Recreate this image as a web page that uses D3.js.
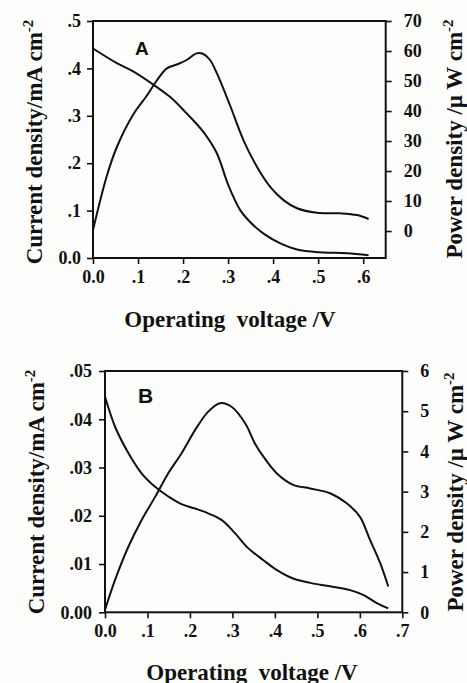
<!DOCTYPE html>
<html>
<head>
<meta charset="utf-8">
<script src="https://cdn.jsdelivr.net/npm/d3@7"></script>
<style>
  html, body { margin: 0; padding: 0; background: #fdfdfb; }
  svg { display: block; }
  .tick text { font-family: "Liberation Serif", "Times New Roman", serif; font-weight: bold; font-size: 18px; fill: #111; }
  .axis-title { font-family: "Liberation Serif", "Times New Roman", serif; font-weight: bold; font-size: 23px; fill: #111; white-space: pre; }
  .panel-tag { font-family: "Liberation Sans", Arial, sans-serif; font-weight: bold; font-size: 20px; fill: #111; }
</style>
</head>
<body>
<div id="chart"></div>
<script>
// ── Data: panel A ──────────────────────────────────────────────────────────
const aCurrentV = [0, 0.053, 0.09, 0.141, 0.171, 0.208, 0.245, 0.275, 0.30, 0.327, 0.35, 0.378, 0.416, 0.453, 0.504, 0.564, 0.612];
const aCurrent  = [0.442, 0.411, 0.393, 0.361, 0.34, 0.305, 0.266, 0.221, 0.155, 0.101, 0.075, 0.052, 0.031, 0.018, 0.012, 0.010, 0.006];
const aPowerV   = [0, 0.03, 0.053, 0.09, 0.119, 0.141, 0.164, 0.186, 0.208, 0.23, 0.245, 0.26, 0.275, 0.304, 0.334, 0.364, 0.393, 0.423, 0.453, 0.497, 0.549, 0.586, 0.612];
const aPower    = [0.3, 18, 28, 39, 45, 50, 54.2, 55.5, 57, 59.2, 59, 57, 52.6, 42, 30.3, 21.4, 14.8, 10.3, 7.6, 6.1, 5.9, 5.3, 4.0];

// ── Data: panel B ──────────────────────────────────────────────────────────
const bCurrentV = [0, 0.0235, 0.055, 0.086, 0.118, 0.149, 0.18, 0.212, 0.243, 0.275, 0.306, 0.337, 0.373, 0.404, 0.443, 0.483, 0.53, 0.577, 0.608, 0.64, 0.667];
const bCurrent  = [0.0447, 0.0385, 0.033, 0.0288, 0.026, 0.024, 0.0224, 0.0215, 0.0205, 0.0191, 0.0164, 0.0133, 0.0108, 0.0088, 0.007, 0.0061, 0.0054, 0.0046, 0.0036, 0.0019, 0.0008];
const bPowerV   = [0, 0.0235, 0.055, 0.086, 0.118, 0.149, 0.18, 0.212, 0.243, 0.271, 0.298, 0.33, 0.353, 0.373, 0.404, 0.443, 0.483, 0.53, 0.569, 0.6, 0.624, 0.648, 0.667];
const bPower    = [0.06, 0.8, 1.63, 2.29, 2.87, 3.46, 3.95, 4.53, 4.99, 5.2, 5.11, 4.7, 4.2, 3.87, 3.46, 3.17, 3.08, 2.96, 2.71, 2.38, 1.8, 1.22, 0.64];

// ── Tick labels ────────────────────────────────────────────────────────────
const aXTicks = ["0.0", ".1", ".2", ".3", ".4", ".5", ".6"];
const aLTicks = ["0.0", ".1", ".2", ".3", ".4", ".5"];
const aRTicks = ["0", "10", "20", "30", "40", "50", "60", "70"];
const bXTicks = ["0.0", ".1", ".2", ".3", ".4", ".5", ".6", ".7"];
const bLTicks = ["0.00", ".01", ".02", ".03", ".04", ".05"];
const bRTicks = ["0", "1", "2", "3", "4", "5", "6"];

const xTitle = "Operating  voltage /V";
const leftTitle = "Current density/mA cm";
const rightTitle = "Power density /\u00b5 W cm";

const svg = d3.select("#chart").append("svg")
  .attr("width", 467).attr("height", 683);

function drawPanel(p) {
  const x = d3.scaleLinear().domain(p.xDomain).range([p.left, p.right]);
  const yL = d3.scaleLinear().domain(p.lDomain).range([p.bottom, p.top]);
  const yR = d3.scaleLinear().domain(p.rDomain).range([p.bottom, p.top]);

  const g = svg.append("g");

  // ── Axes ───────────────────────────────────────────────────────────────
  const xAx = g.append("g").attr("transform", `translate(0,${p.bottom})`)
    .call(d3.axisBottom(x).tickValues(p.xTicks.map(Number)).tickFormat((d, i) => p.xTicks[i])
      .tickSizeInner(6).tickSizeOuter(0).tickPadding(6));
  const lAx = g.append("g").attr("transform", `translate(${p.left},0)`)
    .call(d3.axisLeft(yL).tickValues(p.lTicks.map(Number)).tickFormat((d, i) => p.lTicks[i])
      .tickSizeInner(6).tickSizeOuter(0).tickPadding(p.lPad));
  const rAx = g.append("g").attr("transform", `translate(${p.right},0)`)
    .call(d3.axisRight(yR).tickValues(p.rTicks.map(Number)).tickFormat((d, i) => p.rTicks[i])
      .tickSizeInner(6).tickSizeOuter(0).tickPadding(p.rPad));

  [xAx, lAx, rAx].forEach((a) => {
    a.select(".domain").remove();
    a.selectAll(".tick line").attr("stroke", "#111").attr("stroke-width", 1.6);
  });

  // ── Frame ──────────────────────────────────────────────────────────────
  g.append("rect")
    .attr("x", p.left).attr("y", p.top)
    .attr("width", p.right - p.left).attr("height", p.bottom - p.top)
    .attr("fill", "none").attr("stroke", "#111").attr("stroke-width", 2);

  // ── Curves ─────────────────────────────────────────────────────────────
  const lineL = d3.line().x((d) => x(d[0])).y((d) => yL(d[1])).curve(d3.curveCatmullRom.alpha(0.5));
  const lineR = d3.line().x((d) => x(d[0])).y((d) => yR(d[1])).curve(d3.curveCatmullRom.alpha(0.5));

  g.append("path").datum(d3.zip(p.curV, p.cur))
    .attr("d", lineL).attr("fill", "none").attr("stroke", "#111").attr("stroke-width", 2);
  g.append("path").datum(d3.zip(p.powV, p.pow))
    .attr("d", lineR).attr("fill", "none").attr("stroke", "#111").attr("stroke-width", 2);

  // ── Panel tag ──────────────────────────────────────────────────────────
  g.append("text").attr("class", "panel-tag")
    .attr("x", p.tag[0]).attr("y", p.tag[1]).style("font-size", p.tagSize + "px")
    .text(p.name);

  // ── Titles ─────────────────────────────────────────────────────────────
  g.append("text").attr("class", "axis-title")
    .attr("x", p.xTitlePos[0]).attr("y", p.xTitlePos[1])
    .attr("text-anchor", "middle").text(xTitle);

  const lt = g.append("text").attr("class", "axis-title")
    .attr("transform", `translate(${p.lTitlePos[0]},${p.lTitlePos[1]}) rotate(-90)`)
    .attr("text-anchor", "middle");
  lt.append("tspan").text(leftTitle);
  lt.append("tspan").attr("dy", -9).style("font-size", "15px").text("-2");

  const rt = g.append("text").attr("class", "axis-title")
    .attr("transform", `translate(${p.rTitlePos[0]},${p.rTitlePos[1]}) rotate(-90)`)
    .attr("text-anchor", "middle");
  rt.append("tspan").text(rightTitle);
  rt.append("tspan").attr("dy", -9).style("font-size", "15px").text("-2");
}

drawPanel({
  name: "A", left: 93, right: 385.7, top: 21, bottom: 258,
  xDomain: [0, 0.65], lDomain: [0, 0.5], rDomain: [-9, 70],
  xTicks: aXTicks, lTicks: aLTicks, rTicks: aRTicks, lPad: 6, rPad: 12,
  curV: aCurrentV, cur: aCurrent, powV: aPowerV, pow: aPower,
  tag: [135, 55], tagSize: 19,
  xTitlePos: [230, 327], lTitlePos: [41.5, 142], rTitlePos: [462, 139],
});

drawPanel({
  name: "B", left: 105, right: 402.3, top: 371, bottom: 612.3,
  xDomain: [0, 0.7], lDomain: [0, 0.05], rDomain: [0, 6],
  xTicks: bXTicks, lTicks: bLTicks, rTicks: bRTicks, lPad: 7, rPad: 12,
  curV: bCurrentV, cur: bCurrent, powV: bPowerV, pow: bPower,
  tag: [138, 403], tagSize: 21,
  xTitlePos: [252, 680], lTitlePos: [44, 492], rTitlePos: [463, 492],
});
</script>
</body>
</html>
